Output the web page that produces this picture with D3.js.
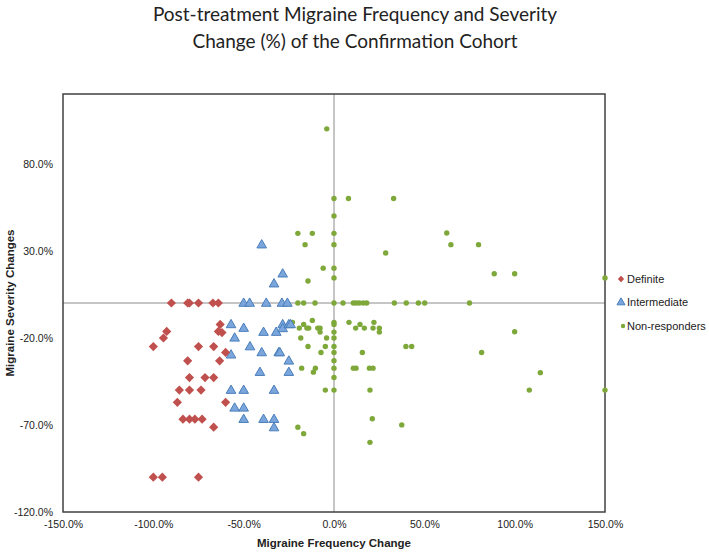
<!DOCTYPE html>
<html><head><meta charset="utf-8">
<script src="https://cdn.jsdelivr.net/npm/d3@7/dist/d3.min.js"></script>
<style>body{margin:0;background:#fff}svg{display:block}</style>
</head><body><svg id="c" width="709" height="553"></svg>
<script>
const titleLines = ["Post-treatment Migraine Frequency and Severity", "Change (%) of the Confirmation Cohort"];
const xTicks = [-150, -100, -50, 0, 50, 100, 150];
const yTicks = [-120, -70, -20, 30, 80];
const seriesNames = ["Definite", "Intermediate", "Non-responders"];

const definiteX = [-90,-81,-80,-75,-67,-64,-63,-92.6,-94.4,-64,-62,-100,-75,-66.6,-60,-81,-63.3,-80,-71.4,-66.6,-85.6,-80,-73.6,-86.7,-60,-83.6,-80,-77,-73,-66.6,-100,-95,-75];
const definiteY = [0,0,0,0,0,0,-12.3,-16.3,-20.1,-16.3,-17,-25,-25,-25,-28.4,-33.2,-33.2,-42.8,-42.8,-42.8,-50,-50,-50,-57,-57,-66.7,-66.7,-66.7,-66.7,-71.3,-100,-100,-100];

const interX = [-40,-28.4,-33.2,-50,-46.7,-37.5,-28.8,-25.8,-57,-50,-55,-39,-32,-28.4,-28.4,-25,-24,-46.5,-57,-40,-30.6,-30,-25,-41,-25,-57,-50,-33.2,-55,-50,-50,-39,-33.2,-33.2];
const interY = [33.5,16.8,11.1,0,0,0,0,0,-12.3,-14.4,-20,-16.7,-16.7,-12.3,-14.6,-12.3,-12.3,-25,-29.7,-28.4,-28.4,-28.4,-33.2,-39.7,-39.7,-50,-50,-50,-60.2,-60.2,-66.7,-66.7,-66.7,-71.5];

const nonX = [-4,0,8,0,-20,-12,0,-16,0,-6,0,0,-14.4,
  -20,-16.8,-10.5,0,5,10.7,12.2,14,16.2,18.1,33.4,40,46.7,50.2,75,
  33,62.4,64.7,80,28.6,88.7,100,150,
  -23,-19.2,-16.8,-15,-14,-12,-9,-7.7,-7.7,-18.4,-4.1,-14.4,-4.8,-7.2,-17.9,-10.3,-11.4,-4.8,
  0,0,0,0,0,0,0,0,0,0,
  -20,-16.8,8.3,12,14.4,16.8,22.1,21.6,25.1,25.1,15.7,39.8,43,10.7,12.2,19.6,21.6,19.9,21.2,37.5,19.9,
  100,81.7,114.2,108.1,150];
const nonY = [100,60,60,50,40,40,40,33.5,33.5,20,20,14.4,12.6,
  0,0,0,0,0,0,0,0,0,0,0,0,0,0,0,
  60,40.2,33.5,33.5,28.7,16.8,16.8,14.4,
  -11.1,-14.4,-12.3,-14.4,-14.4,-10,-14.4,-14.4,-16.7,-20.1,-20.1,-25,-25,-28.4,-37.4,-37.4,-39.7,-50,
  -11.1,-12.3,-16.7,-20.1,-25,-28.4,-33.2,-37.4,-42.8,-50,
  -71.3,-75,-11.1,-14.4,-12.3,-14.4,-11.1,-14.4,-14.4,-16.7,-28.4,-25,-25,-37.4,-37.4,-37.4,-37.4,-50,-66.5,-70,-80,
  -16.5,-28.4,-40,-50,-50];

const svg = d3.select("#c");
const L = 63, R = 605, T = 94, B = 512;
const x = d3.scaleLinear().domain([-150, 150]).range([L, R]);
const y = d3.scaleLinear().domain([-120, 120]).range([B, T]);
const fmt = v => (v < 0 ? "-" : "") + d3.format(".1f")(Math.abs(v)) + "%";
const labelFont = "'Liberation Sans', Arial, sans-serif";

// title
svg.append("g").selectAll("text").data(titleLines).join("text")
  .attr("x", 355).attr("y", (d, i) => 21 + i * 27)
  .attr("text-anchor", "middle")
  .attr("font-family", "Lato, 'Open Sans', sans-serif")
  .attr("font-size", 19).attr("fill", "#222").text(d => d);

// zero lines
svg.append("line").attr("x1", x(0)).attr("x2", x(0)).attr("y1", T).attr("y2", B)
  .attr("stroke", "#8c8c8c").attr("stroke-width", 1);
svg.append("line").attr("x1", L).attr("x2", R).attr("y1", y(0)).attr("y2", y(0))
  .attr("stroke", "#8c8c8c").attr("stroke-width", 1);

// frame
svg.append("rect").attr("x", L).attr("y", T).attr("width", R - L).attr("height", B - T)
  .attr("fill", "none").attr("stroke", "#404040").attr("stroke-width", 1.5);

// axes
const xAxis = d3.axisBottom(x).tickValues(xTicks).tickFormat(fmt).tickSize(0).tickPadding(9);
const gx = svg.append("g").attr("transform", `translate(0,${B})`).call(xAxis);
const yAxis = d3.axisLeft(y).tickValues(yTicks).tickFormat(fmt).tickSize(0).tickPadding(10);
const gy = svg.append("g").attr("transform", `translate(${L},0)`).call(yAxis);
[gx, gy].forEach(g => {
  g.select(".domain").remove();
  g.attr("font-family", null).attr("font-size", null);
  g.selectAll("text").attr("font-family", labelFont)
    .attr("font-size", 10.5).attr("fill", "#222");
});

// axis titles
svg.append("text").attr("x", x(0)).attr("y", 547).attr("text-anchor", "middle")
  .attr("font-family", labelFont).attr("font-weight", "bold")
  .attr("font-size", 11.5).attr("fill", "#222").text("Migraine Frequency Change");
svg.append("text").attr("transform", `translate(14,${y(0)}) rotate(-90)`).attr("text-anchor", "middle")
  .attr("font-family", labelFont).attr("font-weight", "bold")
  .attr("font-size", 11.5).attr("fill", "#222").text("Migraine Severity Changes");

const red = "#c0504d", blueFill = "#7aa6dc", blueStroke = "#4a7ebb", green = "#7ea83a";
const hasD2 = !!d3.symbolDiamond2;
const diamond = d3.symbol().type(hasD2 ? d3.symbolDiamond2 : d3.symbolSquare).size(hasD2 ? 54 : 40);
const diamondSmall = d3.symbol().type(hasD2 ? d3.symbolDiamond2 : d3.symbolSquare).size(hasD2 ? 26 : 20);
const rot = hasD2 ? "" : " rotate(45)";
const triangle = d3.symbol().type(d3.symbolTriangle).size(40);
const triangleSmall = d3.symbol().type(d3.symbolTriangle).size(28);

const defData = definiteX.map((v, i) => [v, definiteY[i]]);
const intData = interX.map((v, i) => [v, interY[i]]);
const nonData = nonX.map((v, i) => [v, nonY[i]]);

svg.append("g").selectAll("circle").data(nonData).join("circle")
  .attr("cx", d => x(d[0])).attr("cy", d => y(d[1])).attr("r", 2.7).attr("fill", green);
svg.append("g").selectAll("path").data(intData).join("path")
  .attr("d", triangle).attr("transform", d => `translate(${x(d[0])},${y(d[1]) + 0.5})`)
  .attr("fill", blueFill).attr("stroke", blueStroke).attr("stroke-width", 1);
svg.append("g").selectAll("path").data(defData).join("path")
  .attr("d", diamond).attr("transform", d => `translate(${x(d[0])},${y(d[1])})${rot}`)
  .attr("fill", red);

// legend
const lg = svg.append("g");
const ly = [279, 302, 326];
lg.append("path").attr("d", diamondSmall).attr("transform", `translate(621,${ly[0]})${rot}`).attr("fill", red);
lg.append("path").attr("d", triangleSmall).attr("transform", `translate(621,${ly[1] + 0.5})`)
  .attr("fill", blueFill).attr("stroke", blueStroke);
lg.append("circle").attr("cx", 623).attr("cy", ly[2]).attr("r", 2.2).attr("fill", green);
lg.selectAll("text").data(seriesNames).join("text")
  .attr("x", 627).attr("y", (d, i) => ly[i] + 4)
  .attr("font-family", labelFont).attr("font-size", 11)
  .attr("fill", "#222").text(d => d);
</script></body></html>
